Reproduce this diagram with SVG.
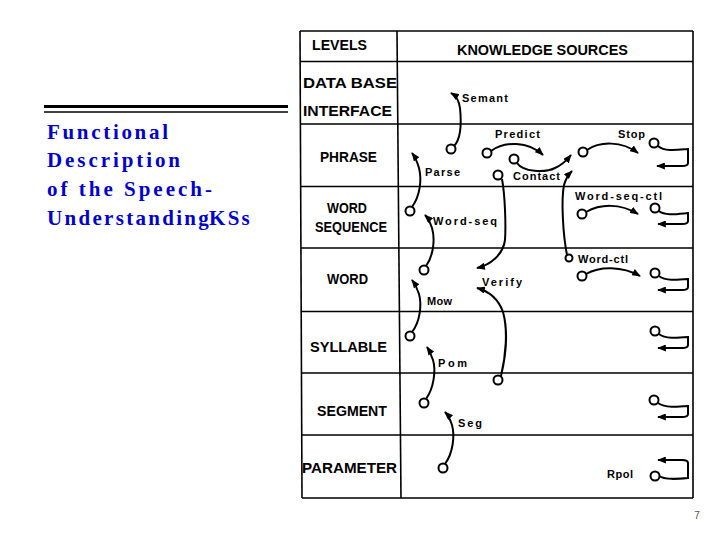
<svg xmlns="http://www.w3.org/2000/svg" width="719" height="539" viewBox="0 0 719 539">
<style>
.title{font-family:"Liberation Serif","Times New Roman",serif;font-weight:bold;font-size:21px;fill:#0000cc}
.lv{font-family:"Liberation Sans",Arial,sans-serif;font-weight:bold;font-size:15px;fill:#000}
.ks{font-family:"Liberation Sans",Arial,sans-serif;font-weight:bold;font-size:11px;fill:#000}
.grid{stroke:#000;stroke-width:1.6;fill:none}
.c{fill:none;stroke:#000;stroke-width:2;marker-end:url(#ah)}
.o{fill:#fff;stroke:#000;stroke-width:2}
</style>
<defs>
<marker id="ah" viewBox="0 0 10 8" refX="9" refY="4" markerWidth="9" markerHeight="7" orient="auto" markerUnits="userSpaceOnUse"><path d="M0,0 L10,4 L0,8 z" fill="#000"/></marker>
</defs>
<rect width="719" height="539" fill="#fff"/>
<g id="title">
<line x1="44" y1="106.5" x2="288" y2="106.5" stroke="#000" stroke-width="3"/>
<line x1="44" y1="112" x2="288" y2="112" stroke="#000" stroke-width="1.5"/>
<text class="title" x="47" y="139" textLength="121">Functional</text>
<text class="title" x="47" y="167" textLength="133">Description</text>
<text class="title" x="47" y="196" textLength="165">of the Speech-</text>
<text class="title" x="47" y="225" letter-spacing="2.3">Understanding<tspan x="209">KSs</tspan></text>
</g>
<g id="table">
<line class="grid" x1="300" y1="31" x2="693" y2="31"/>
<line class="grid" x1="300" y1="31" x2="302" y2="498"/>
<line class="grid" x1="693" y1="31" x2="693" y2="498"/>
<line class="grid" x1="302" y1="498" x2="693" y2="498"/>
<line class="grid" x1="397" y1="31" x2="401" y2="498"/>
<line class="grid" x1="300" y1="61.5" x2="693" y2="61.5"/>
<line class="grid" x1="300" y1="124" x2="693" y2="124"/>
<line class="grid" x1="300" y1="186.5" x2="693" y2="186.5"/>
<line class="grid" x1="301" y1="248" x2="693" y2="248"/>
<line class="grid" x1="301" y1="311.5" x2="693" y2="311.5"/>
<line class="grid" x1="301" y1="373" x2="693" y2="373"/>
<line class="grid" x1="302" y1="435" x2="693" y2="435"/>
</g>
<g id="level-levels"><text class="lv" x="312" y="50" textLength="55" lengthAdjust="spacingAndGlyphs">LEVELS</text></g>
<g id="header-ks"><text class="lv" x="457" y="55" textLength="171" lengthAdjust="spacingAndGlyphs">KNOWLEDGE SOURCES</text></g>
<g id="level-database"><text class="lv" x="303" y="88" textLength="94" lengthAdjust="spacingAndGlyphs">DATA BASE</text><text class="lv" x="303" y="116" textLength="89" lengthAdjust="spacingAndGlyphs">INTERFACE</text></g>
<g id="level-phrase"><text class="lv" x="320" y="162" textLength="57" lengthAdjust="spacingAndGlyphs">PHRASE</text></g>
<g id="level-wordseq"><text class="lv" x="327" y="213" textLength="40" lengthAdjust="spacingAndGlyphs">WORD</text><text class="lv" x="315" y="232" textLength="72" lengthAdjust="spacingAndGlyphs">SEQUENCE</text></g>
<g id="level-word"><text class="lv" x="327" y="284" textLength="41" lengthAdjust="spacingAndGlyphs">WORD</text></g>
<g id="level-syllable"><text class="lv" x="310" y="352" textLength="77" lengthAdjust="spacingAndGlyphs">SYLLABLE</text></g>
<g id="level-segment"><text class="lv" x="317" y="416" textLength="70" lengthAdjust="spacingAndGlyphs">SEGMENT</text></g>
<g id="level-parameter"><text class="lv" x="302" y="473" textLength="95" lengthAdjust="spacingAndGlyphs">PARAMETER</text></g>
<g id="ks-semant"><text class="ks" x="462" y="102" textLength="46">Semant</text></g>
<g id="ks-predict"><text class="ks" x="495" y="138" textLength="45">Predict</text></g>
<g id="ks-stop"><text class="ks" x="618" y="138" textLength="27">Stop</text></g>
<g id="ks-parse"><text class="ks" x="425" y="176" textLength="35">Parse</text></g>
<g id="ks-contact"><text class="ks" x="513" y="180" textLength="47">Contact</text></g>
<g id="ks-wordseqctl"><text class="ks" x="575" y="200" textLength="87">Word-seq-ctl</text></g>
<g id="ks-wordseq"><text class="ks" x="433" y="225" textLength="64">Word-seq</text></g>
<g id="ks-wordctl"><text class="ks" x="578" y="263" textLength="50">Word-ctl</text></g>
<g id="ks-verify"><text class="ks" x="482" y="286" textLength="40">Verify</text></g>
<g id="ks-mow"><text class="ks" x="427" y="305" textLength="25">Mow</text></g>
<g id="ks-pom"><text class="ks" x="438" y="367" textLength="29">Pom</text></g>
<g id="ks-seg"><text class="ks" x="458" y="427" textLength="24">Seg</text></g>
<g id="ks-rpol"><text class="ks" x="607" y="478" textLength="26">Rpol</text></g>
<g id="connectors">
<path class="c" d="M454,146 C462,138 461,118 460,108 C459,100 456,96 451,93"/>
<path class="c" d="M491,151 C505,141 528,141 543,155"/>
<path class="c" d="M517,163 C523,172 545,173 555,168 C562,165 567,160 571,155"/>
<path class="c" d="M587,150 C600,141 622,141 638,153"/>
<path class="c" d="M567,255 C563,235 561,200 564,185 C566,178 568,175 572,171"/>
<path class="c" d="M412,207 C420,196 422,180 419,168 C417,161 415,157 412,153"/>
<path class="c" d="M426,266 C434,255 435,238 432,228 C430,222 428,218 425,215"/>
<path class="c" d="M502,179 C505,195 506,225 505,240 C503,255 490,265 477,268"/>
<path class="c" d="M501,376 C506,355 508,330 503,312 C498,298 488,291 477,288"/>
<path class="c" d="M586,212 C600,204 620,203 638,214"/>
<path class="c" d="M586,274 C600,266 622,266 640,276"/>
<path class="c" d="M412,332 C420,322 422,305 419,294 C417,288 415,284 412,280"/>
<path class="c" d="M426,399 C434,388 436,370 433,360 C431,354 429,350 427,347"/>
<path class="c" d="M445,464 C453,453 455,436 452,425 C450,419 448,415 445,412"/>
<path class="c" d="M658,146 C665,152 677,150 688,149 L688,163 Q688,166 682,166 L657,166"/>
<path class="c" d="M659,211 C665,216 677,214 688,213 L688,221 Q688,224 682,224 L658,224"/>
<path class="c" d="M659,276 C665,281 677,280 688,279 L688,287 Q688,290 682,290 L658,290"/>
<path class="c" d="M659,334 C665,339 677,338 688,337 L688,345 Q688,348 682,348 L658,348"/>
<path class="c" d="M658,403 C665,408 677,407 688,406 L688,414 Q688,417 682,417 L658,417"/>
<path class="c" d="M659,476 C665,480 677,479 688,478 L688,463 Q688,460 682,460 L658,460"/>
<circle class="o" cx="451" cy="149" r="4.5"/>
<circle class="o" cx="487" cy="153" r="4.5"/>
<circle class="o" cx="514" cy="159" r="4.5"/>
<circle class="o" cx="583" cy="152" r="4.5"/>
<circle class="o" cx="654" cy="143" r="4.5"/>
<circle class="o" cx="498" cy="175" r="4.5"/>
<circle class="o" cx="410" cy="211" r="4.5"/>
<circle class="o" cx="582" cy="214" r="4.5"/>
<circle class="o" cx="655" cy="208" r="4.5"/>
<circle class="o" cx="424" cy="270" r="4.5"/>
<circle class="o" cx="569" cy="258" r="3.5"/>
<circle class="o" cx="582" cy="276" r="4.5"/>
<circle class="o" cx="655" cy="273" r="4.5"/>
<circle class="o" cx="410" cy="336" r="4.5"/>
<circle class="o" cx="655" cy="331" r="4.5"/>
<circle class="o" cx="498" cy="380" r="4.5"/>
<circle class="o" cx="424" cy="403" r="4.5"/>
<circle class="o" cx="654" cy="400" r="4.5"/>
<circle class="o" cx="443" cy="468" r="4.5"/>
<circle class="o" cx="655" cy="476" r="4.5"/>
</g>
<text x="697" y="519" font-family="Liberation Sans, Arial, sans-serif" font-size="10" fill="#555" text-anchor="middle">7</text>
</svg>
